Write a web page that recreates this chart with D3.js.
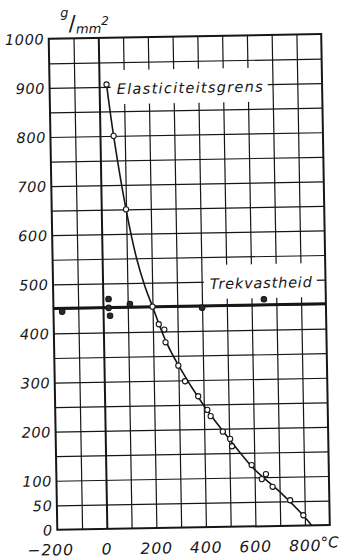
<!DOCTYPE html>
<html lang="nl">
<head>
<meta charset="utf-8">
<title>Elasticiteitsgrens en trekvastheid</title>
<script src="https://cdn.jsdelivr.net/npm/d3@7"></script>
<style>
  html, body { margin: 0; padding: 0; background: #fff; }
  svg { display: block; }
  text { font-family: "DejaVu Sans", sans-serif; font-style: italic; fill: #161616; }
</style>
</head>
<body>
<script>
// Axis ticks: temperature (°C) and stress (g/mm²)
const tempTicks = [-200, 0, 200, 400, 600, 800];
const stressTicks = [0, 50, 100, 200, 300, 400, 500, 600, 700, 800, 900, 1000];

// Elastic limit: measured points
const elasticTemp   = [30, 55, 100, 200, 224, 246, 250, 300, 326, 378, 414, 427, 475, 504, 511, 589, 629, 646, 672, 742, 794];
const elasticStress = [905, 800, 650, 451, 415, 404, 378, 330, 298, 267, 239, 226, 194, 179, 164, 125, 96, 106, 80, 52, 21];

// Elastic limit: faired curve through the measurements
const curveTemp   = [30, 55, 100, 140, 170, 200, 250, 300, 400, 500, 600, 700, 800, 827];
const curveStress = [905, 800, 650, 548, 494, 451, 382, 331, 248, 179, 116, 70, 17, 0];

// Tensile strength: mean level and measured points
const tensileLevel  = 451;
const tensileTemp   = [-165, 23, 23, 28, 109, 400, 650];
const tensileStress = [444, 468, 450, 434, 457, 447, 462];

const seriesLabels = ["Elasticiteitsgrens", "Trekvastheid"];

const W = 340, H = 559;
const ink = "#161616";

const x = d3.scaleLinear().domain([-200, 900]).range([53, 325.5]);
const y = d3.scaleLinear().domain([0, 1000]).range([527.5, 36.4]);
const [xl, xr] = x.range();
const [yb, yt] = y.range();

const svg = d3.select("body").append("svg")
  .attr("width", W).attr("height", H)
  .attr("viewBox", `0 0 ${W} ${H}`);

// the whole plate sits at a slight tilt
const g = svg.append("g").attr("transform", "rotate(-1 189 282)");

// ---- grid ----
const gridT = d3.range(-100, 900, 100);
const gridS = d3.range(50, 1000, 50);

g.append("g")
  .attr("transform", `translate(0,${yb})`)
  .call(d3.axisBottom(x).tickValues(gridT).tickSize(-(yb - yt)).tickFormat(""))
  .call(s => s.select(".domain").remove())
  .selectAll("line")
  .attr("stroke", ink)
  .attr("stroke-width", d => d === 0 ? 2 : 1.2);

g.append("g")
  .attr("transform", `translate(${xl},0)`)
  .call(d3.axisLeft(y).tickValues(gridS).tickSize(-(xr - xl)).tickFormat(""))
  .call(s => s.select(".domain").remove())
  .selectAll("line")
  .attr("stroke", ink)
  .attr("stroke-width", 1.2);

// white panels behind the series labels
const boxLayer = g.append("g");

// frame
g.append("rect")
  .attr("x", xl).attr("y", yt)
  .attr("width", xr - xl).attr("height", yb - yt)
  .attr("fill", "none").attr("stroke", ink).attr("stroke-width", 2);

// tensile strength level
g.append("line")
  .attr("x1", xl).attr("x2", xr)
  .attr("y1", y(tensileLevel)).attr("y2", y(tensileLevel))
  .attr("stroke", ink).attr("stroke-width", 2.6);

// elastic limit curve
const curvePts = curveTemp.map((t, i) => [t, curveStress[i]]);
g.append("path")
  .attr("d", d3.line().x(d => x(d[0])).y(d => y(d[1])).curve(d3.curveCatmullRom.alpha(0.5))(curvePts))
  .attr("fill", "none").attr("stroke", ink).attr("stroke-width", 1.6);

// elastic limit measurements (open circles)
g.append("g").selectAll("circle")
  .data(elasticTemp.map((t, i) => [t, elasticStress[i]]))
  .join("circle")
  .attr("cx", d => x(d[0])).attr("cy", d => y(d[1]))
  .attr("r", 2.6)
  .attr("fill", "#fff").attr("stroke", ink).attr("stroke-width", 1.1);

// tensile strength measurements (filled dots)
g.append("g").selectAll("circle")
  .data(tensileTemp.map((t, i) => [t, tensileStress[i]]))
  .join("circle")
  .attr("cx", d => x(d[0])).attr("cy", d => y(d[1]))
  .attr("r", 2.8)
  .attr("fill", "#2a2a2a").attr("stroke", ink).attr("stroke-width", 1);

// ---- series labels ----
const labelSpecs = [
  { text: seriesLabels[0], t: 71, s: 885, len: 146 },
  { text: seriesLabels[1], t: 433, s: 485, len: 102 }
];
labelSpecs.forEach(L => {
  const bx = x(L.t), by = y(L.s);
  g.append("text")
    .attr("x", bx).attr("y", by)
    .attr("textLength", L.len).attr("lengthAdjust", "spacing")
    .style("font-size", "14.5px")
    .text(L.text);
  boxLayer.append("rect")
    .attr("x", bx - 6).attr("y", by - 24)
    .attr("width", L.len + 11).attr("height", 34)
    .attr("fill", "#fff");
});

// ---- tick labels ----
g.append("g").selectAll("text")
  .data(stressTicks)
  .join("text")
  .attr("x", xl - 4.5).attr("y", d => y(d))
  .attr("dy", "0.38em")
  .attr("text-anchor", "end")
  .style("font-size", "14.5px")
  .style("letter-spacing", "0.6px")
  .text(d => d);

const xLab = g.append("g").selectAll("text")
  .data(tempTicks)
  .join("text")
  .attr("x", d => x(d)).attr("y", yb + 25.5)
  .attr("dx", d => d < 0 ? -7 : 0)
  .attr("text-anchor", "middle")
  .style("font-size", "15.5px")
  .style("letter-spacing", "1px")
  .text(d => d < 0 ? "\u2212" + Math.abs(d) : d);

// unit after the last temperature label
const lastNode = xLab.filter((d, i, n) => i === n.length - 1).node();
const lb = lastNode.getBBox();
g.append("text")
  .attr("x", lb.x + lb.width - 1).attr("y", yb + 22.5)
  .style("font-size", "15px")
  .text("°C");

// unit of the stress axis: g/mm², set as a single piece of text
const unit = g.append("text").attr("x", 65).attr("y", 15);
unit.append("tspan").style("font-size", "13px").text("g");
unit.append("tspan").attr("dy", 13.5)
  .style("font-size", "21px").style("font-style", "normal").text("/");
unit.append("tspan").attr("dy", 3).style("font-size", "13px").text("mm");
unit.append("tspan").attr("dy", -8).style("font-size", "12px").text("2");
</script>
</body>
</html>
